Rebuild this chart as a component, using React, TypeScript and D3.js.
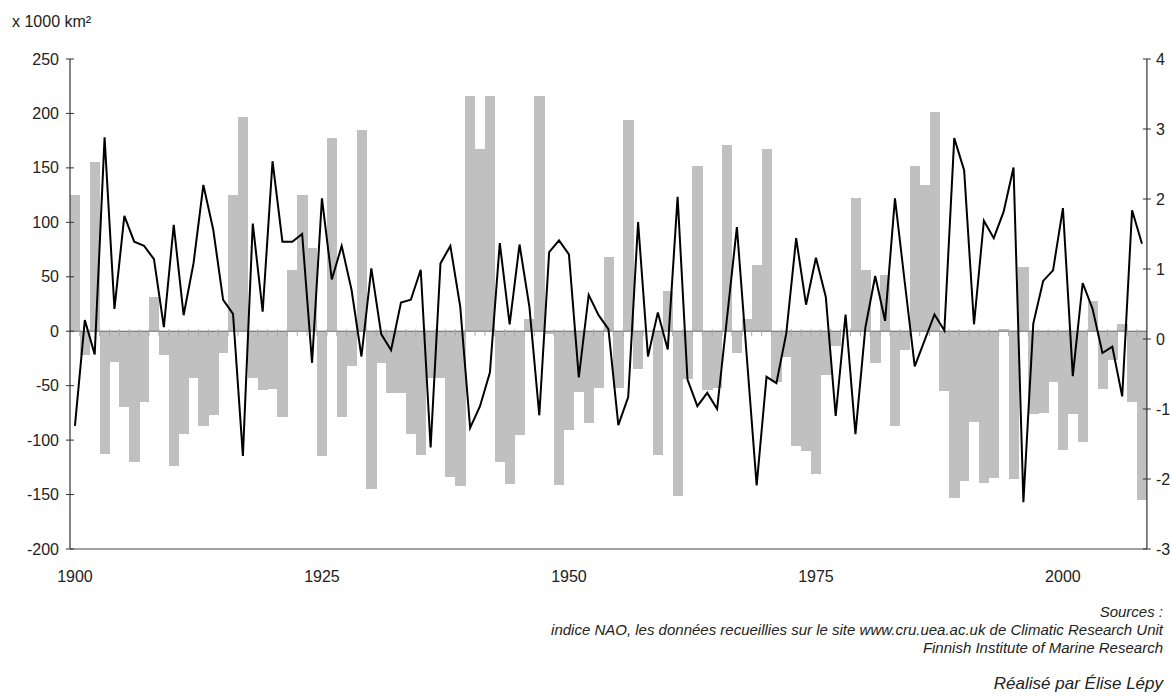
import React from "react";
import * as d3 from "d3";

const years: number[] = d3.range(1900, 2009);

// Ice extent anomaly (x 1000 km²), bars
const iceAnomaly: number[] = [
  125, -22, 155, -113, -28, -70, -120, -65, 31, -22,
  -124, -94, -43, -87, -77, -20, 125, 197, -43, -54,
  -53, -79, 56, 125, 76, -115, 177, -79, -32, 185,
  -145, -29, -57, -57, -94, -114, -43, -43, -134, -142,
  216, 167, 216, -120, -140, -95, 11, 216, -3, -141,
  -91, -56, -84, -52, 68, -52, 194, -35, 0, -114,
  37, -151, -44, 152, -54, -52, 171, -20, 11, 61,
  167, -47, -24, -105, -110, -131, -40, -14, 0, 122,
  56, -29, 52, -87, -17, 152, 134, 201, -55, -153,
  -138, -83, -139, -135, 2, -136, 59, -76, -75, -47,
  -109, -76, -102, 28, -53, -26, 7, -65, -155,
];

// NAO index (right axis), line
const naoIndex: number[] = [
  -1.24, 0.27, -0.22, 2.88, 0.43, 1.76, 1.39, 1.33, 1.14, 0.17,
  1.63, 0.34, 1.08, 2.2, 1.56, 0.56, 0.36, -1.67, 1.65, 0.39,
  2.54, 1.39, 1.39, 1.5, -0.34, 2.01, 0.85, 1.33, 0.7, -0.25,
  1.01, 0.07, -0.16, 0.52, 0.56, 0.99, -1.55, 1.08, 1.33, 0.46,
  -1.27, -0.96, -0.48, 1.37, 0.21, 1.35, 0.46, -1.09, 1.24, 1.41,
  1.21, -0.55, 0.63, 0.34, 0.14, -1.23, -0.83, 1.67, -0.25, 0.38,
  -0.15, 2.03, -0.58, -0.96, -0.77, -1.0, 0.3, 1.6, -0.25, -2.09,
  -0.54, -0.63, 0.08, 1.44, 0.49, 1.16, 0.6, -1.1, 0.35, -1.36,
  0.16, 0.9, 0.26, 2.01, 0.8, -0.39, -0.02, 0.35, 0.12, 2.87,
  2.41, 0.21, 1.69, 1.44, 1.82, 2.45, -2.33, 0.22, 0.83, 0.98,
  1.87, -0.53, 0.8, 0.43, -0.2, -0.11, -0.82, 1.84, 1.36,
];

const leftTicks: number[] = [250, 200, 150, 100, 50, 0, -50, -100, -150, -200];
const rightTicks: number[] = [4, 3, 2, 1, 0, -1, -2, -3];
const xLabelYears: number[] = [1900, 1925, 1950, 1975, 2000];

const unitLabel = "x 1000 km²";
const sourceLines: string[] = [
  "Sources :",
  "indice NAO, les données recueillies sur le site www.cru.uea.ac.uk de Climatic Research Unit",
  "Finnish Institute of Marine Research",
];
const authorLine = "Réalisé par Élise Lépy";

const W = 1171;
const H = 698;
const left = 70;
const right = 1146.9;
const top = 59;
const bottom = 549;
const font = "'Liberation Sans', Arial, Helvetica, sans-serif";

export default function App() {
  const x = d3.scaleBand<number>().domain(years).range([left, right]).padding(0);
  const yL = d3.scaleLinear().domain([-200, 250]).range([bottom, top]);
  const yR = d3.scaleLinear().domain([-3, 4]).range([bottom, top]);
  const bw = x.bandwidth();
  const y0 = yL(0);

  const line = d3
    .line<number>()
    .x((_, i) => (x(years[i]) as number) + bw / 2)
    .y((d) => yR(d));

  return (
    <svg
      width={W}
      height={H}
      style={{ position: "absolute", left: 0, top: 0, background: "#fff" }}
      fontFamily={font}
    >
      <rect x={0} y={0} width={W} height={H} fill="#fff" />
      <text x={12} y={27} fontSize={16} fill="#222">{unitLabel}</text>

      {/* bars */}
      <g shapeRendering="crispEdges">
        {iceAnomaly.map((v, i) => {
          const xp = x(years[i]) as number;
          const ya = yL(Math.max(0, v));
          const yb = yL(Math.min(0, v));
          return (
            <rect key={i} x={xp} y={ya} width={bw + 0.4} height={Math.max(0, yb - ya)} fill="#c0c0c0" />
          );
        })}
      </g>

      {/* zero line and category ticks */}
      <line x1={left} x2={right} y1={y0} y2={y0} stroke="#666" strokeWidth={1} />
      {years.map((yr, i) => {
        const xp = (x(yr) as number);
        return i === 0 ? null : (
          <line key={yr} x1={xp} x2={xp} y1={y0 - 2} y2={y0 + 5} stroke="#aaa" strokeWidth={1} />
        );
      })}

      {/* bottom axis */}
      <line x1={left} x2={right} y1={bottom} y2={bottom} stroke="#444" strokeWidth={1.2} />
      {xLabelYears.map((yr) => (
        <text key={yr} x={(x(yr) as number) + bw / 2} y={582} fontSize={16} textAnchor="middle" fill="#222">
          {yr}
        </text>
      ))}

      {/* left axis */}
      <line x1={left} x2={left} y1={top} y2={bottom} stroke="#333" strokeWidth={1.2} />
      {leftTicks.map((t) => (
        <g key={t}>
          <line x1={left - 4} x2={left + 4} y1={yL(t)} y2={yL(t)} stroke="#333" strokeWidth={1} />
          <text x={59} y={yL(t) + 5.5} fontSize={16} textAnchor="end" fill="#222">{t}</text>
        </g>
      ))}

      {/* right axis */}
      <line x1={right} x2={right} y1={top} y2={bottom} stroke="#333" strokeWidth={1.2} />
      {rightTicks.map((t) => (
        <g key={t}>
          <line x1={right - 4} x2={right + 4} y1={yR(t)} y2={yR(t)} stroke="#333" strokeWidth={1} />
          <text x={1156} y={yR(t) + 5.5} fontSize={16} textAnchor="start" fill="#222">{t}</text>
        </g>
      ))}

      {/* NAO line */}
      <path d={line(naoIndex) || ""} fill="none" stroke="#000" strokeWidth={2} strokeLinejoin="miter" />

      {/* sources */}
      {sourceLines.map((s, i) => (
        <text key={i} x={1163} y={617 + i * 18} fontSize={15} fontStyle="italic" textAnchor="end" fill="#222">
          {s}
        </text>
      ))}
      <text x={1163} y={689} fontSize={17} fontStyle="italic" textAnchor="end" fill="#222">{authorLine}</text>
    </svg>
  );
}
